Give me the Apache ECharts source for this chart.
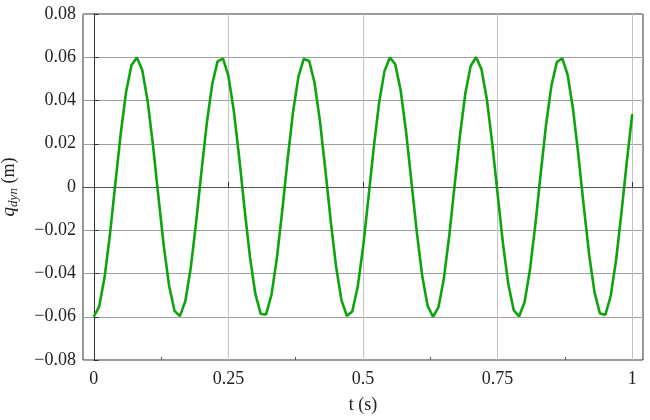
<!DOCTYPE html>
<html>
<head>
<meta charset="utf-8">
<script src="https://cdn.jsdelivr.net/npm/echarts@6/dist/echarts.min.js"></script>
<style>
  html, body { margin: 0; padding: 0; background: #fff; }
  #chart { width: 650px; height: 420px; }
</style>
</head>
<body>
<div id="chart"></div>
<script>
// time samples (s), step 0.01
const tValues = [];
for (let i = 0; i <= 100; i++) tValues.push(+(i / 100).toFixed(2));

// q_dyn (m)
const qDyn = [
  -0.0600, -0.0553, -0.0419, -0.0220, 0.0014, 0.0246, 0.0439, 0.0563, 0.0599, 0.0541,
  0.0398, 0.0193, -0.0043, -0.0272, -0.0458, -0.0573, -0.0597, -0.0528, -0.0376, -0.0165,
  0.0071, 0.0297, 0.0476, 0.0581, 0.0594, 0.0514, 0.0354, 0.0138, -0.0100, -0.0322,
  -0.0493, -0.0587, -0.0589, -0.0499, -0.0330, -0.0110, 0.0128, 0.0345, 0.0509, 0.0592,
  0.0583, 0.0482, 0.0306, 0.0081, -0.0156, -0.0368, -0.0523, -0.0596, -0.0576, -0.0464,
  -0.0281, -0.0053, 0.0183, 0.0391, 0.0537, 0.0599, 0.0567, 0.0446, 0.0255, 0.0024,
  -0.0210, -0.0412, -0.0549, -0.0600, -0.0557, -0.0426, -0.0229, 0.0004, 0.0237, 0.0432,
  0.0560, 0.0600, 0.0545, 0.0406, 0.0202, -0.0033, -0.0263, -0.0452, -0.0570, -0.0598,
  -0.0533, -0.0384, -0.0175, 0.0062, 0.0288, 0.0470, 0.0578, 0.0595, 0.0519, 0.0361,
  0.0147, -0.0090, -0.0313, -0.0487, -0.0585, -0.0591, -0.0504, -0.0338, -0.0119, 0.0118,
  0.0337
];

const xMajorTicks = [0, 0.25, 0.5, 0.75, 1];
const xMinorTicks = [0.125, 0.375, 0.625, 0.875];

const serif = "'Liberation Serif', 'DejaVu Serif', serif";

let myChart = echarts.init(document.getElementById("chart"));
let seriesData = tValues.map((t, i) => [t, qDyn[i]]);

let option = {
  animation: false,
  grid: {
    left: 83,
    right: 7,
    top: 14,
    bottom: 60,
    outerBoundsMode: "none",
    show: true,
    borderColor: "#333",
    borderWidth: 1,
  },
  xAxis: [
    {
      type: "value",
      min: -0.02,
      max: 1.02,
      name: "t (s)",
      nameLocation: "middle",
      nameGap: 36,
      nameTextStyle: { fontFamily: serif, fontSize: 18, color: "#222" },
      axisLine: { show: true, lineStyle: { color: "#333" } },
      axisTick: {
        show: true,
        inside: true,
        length: 5,
        customValues: xMajorTicks,
        lineStyle: { color: "#333" },
      },
      axisLabel: {
        customValues: xMajorTicks,
        margin: 10,
        fontFamily: serif,
        fontSize: 18,
        color: "#222",
      },
      splitLine: { show: true, lineStyle: { color: "#c4c4c4", width: 1 } },
    },
    {
      type: "value",
      position: "bottom",
      min: -0.02,
      max: 1.02,
      axisLine: { show: false },
      axisLabel: { show: false },
      splitLine: { show: false },
      axisTick: {
        show: true,
        inside: true,
        length: 3,
        customValues: xMinorTicks,
        lineStyle: { color: "#555" },
      },
    },
  ],
  yAxis: {
    type: "value",
    min: -0.08,
    max: 0.08,
    interval: 0.02,
    name: "{q|q}{s|dyn}{m| (m)}",
    nameLocation: "middle",
    nameRotate: 90,
    nameGap: 63,
    nameTextStyle: {
      rich: {
        q: { fontFamily: serif, fontStyle: "italic", fontSize: 19, color: "#222" },
        s: {
          fontFamily: serif,
          fontStyle: "italic",
          fontSize: 13,
          color: "#222",
          padding: [9, 0, 0, 0],
        },
        m: { fontFamily: serif, fontSize: 18, color: "#222" },
      },
    },
    axisLine: { show: true, lineStyle: { color: "#333" } },
    axisTick: { show: true, inside: true, length: 5, lineStyle: { color: "#333" } },
    axisLabel: {
      margin: 7,
      fontFamily: serif,
      fontSize: 18,
      color: "#222",
      formatter: (v) => {
        if (Math.abs(v) < 1e-9) return "0";
        return v.toFixed(2).replace("-", "\u2212");
      },
    },
    splitLine: { show: true, lineStyle: { color: "#a0a0a0", width: 1 } },
  },
  series: [
    {
      type: "line",
      data: seriesData,
      showSymbol: false,
      lineStyle: { color: "#0da50d", width: 2.6 },
      z: 3,
      markLine: {
        silent: true,
        symbol: "none",
        label: { show: false },
        lineStyle: { color: "#555", width: 1, type: "solid" },
        data: [{ yAxis: 0 }],
      },
    },
  ],
};
myChart.setOption(option);
</script>
</body>
</html>
